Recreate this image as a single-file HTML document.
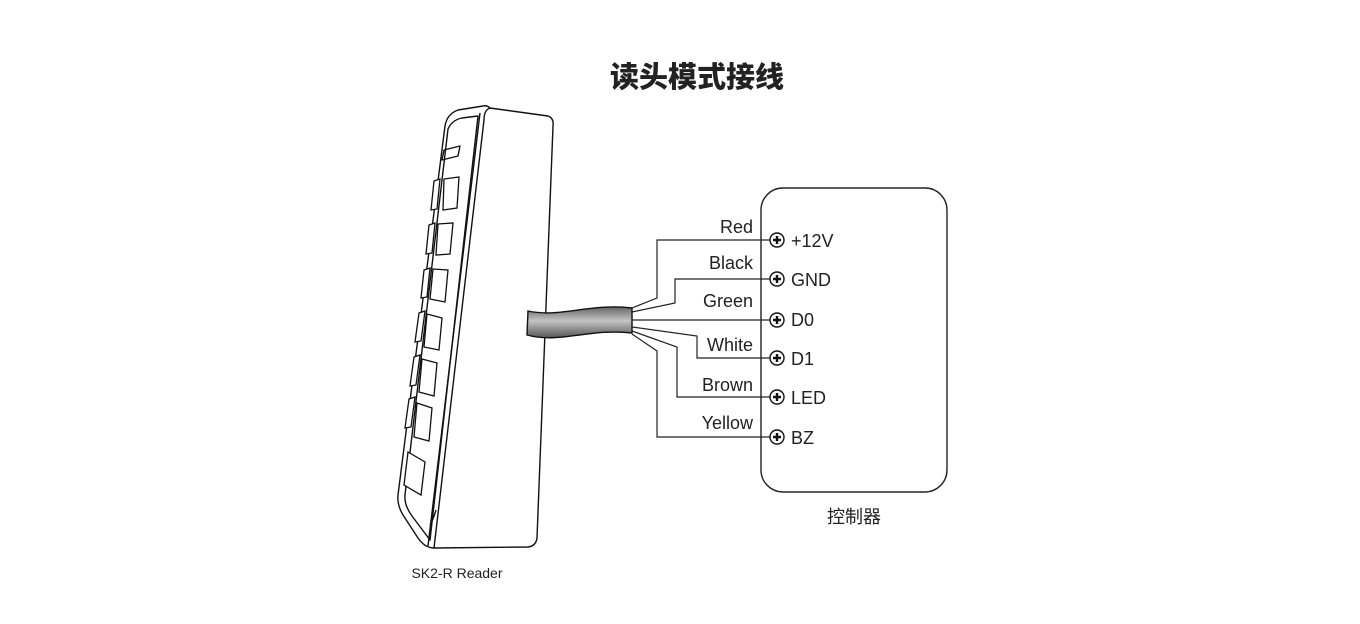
<!DOCTYPE html>
<html><head><meta charset="utf-8"><style>
html,body{margin:0;padding:0;background:#fff;}
svg{display:block;}
text{font-family:"Liberation Sans","Noto Sans CJK SC",sans-serif;fill:#222;}
</style></head><body>
<svg width="1360" height="624" viewBox="0 0 1360 624" xmlns="http://www.w3.org/2000/svg">
<defs>
<linearGradient id="cab" x1="0" y1="0" x2="0" y2="1">
<stop offset="0" stop-color="#666"/><stop offset="0.45" stop-color="#c4c4c4"/><stop offset="1" stop-color="#555"/>
</linearGradient>
</defs>
<text x="697" y="87" font-size="29" font-weight="bold" text-anchor="middle" style="font-family:'Noto Sans CJK SC',sans-serif;font-weight:900">读头模式接线</text>

<!-- reader -->
<g fill="none" stroke="#111" stroke-width="1.4" stroke-linejoin="round">
<path d="M445,126 Q447,114 458,110 L483,106 Q487,105 490,108 L548,116 Q554,118 553,126 L537,538 Q536,546 528,547 L434,548 Q425,548 418,538 L403,515 Q397,505 398,495 Z" fill="#fff"/>
<path d="M490,108 Q484,110 484,120 L434,548"/>
<path d="M480,113 L428,546"/>
<path d="M448,129 Q452,120 462,118 L478,116 L430,540 L412,516 Q404,505 405,495 Z"/>
<path d="M444,150 L460,146 L458,156 L442,160 Z"/>
<path d="M436,510 Q433,520 430,525"/>
</g>
<g fill="#fff" stroke="#111" stroke-width="1.3">
<path d="M434,181 L440,179 L437,209 L431,210 Z"/><path d="M444,179 L459,177 L457,208 L443,210 Z"/>
<path d="M429,225 L435,223 L432,253 L426,254 Z"/><path d="M438,224 L453,223 L450,254 L436,255 Z"/>
<path d="M424,270 L430,268 L427,297 L421,298 Z"/><path d="M433,269 L448,270 L445,302 L430,299 Z"/>
<path d="M419,313 L425,311 L421,341 L415,342 Z"/><path d="M427,314 L442,318 L439,350 L424,347 Z"/>
<path d="M414,357 L420,355 L416,385 L410,386 Z"/><path d="M422,359 L437,363 L434,396 L419,392 Z"/>
<path d="M409,399 L415,397 L411,427 L405,428 Z"/><path d="M417,403 L432,408 L429,441 L414,437 Z"/>
<path d="M408,452 L425,462 L421,495 L404,485 Z"/>
</g>
<!-- cable -->
<path d="M528,311 C560,318 590,303 632,308 L632,333 C590,328 560,344 527,335 Z" fill="url(#cab)" stroke="#111" stroke-width="1.4"/>

<!-- wires -->
<g fill="none" stroke="#222" stroke-width="1.2">
<path d="M632,308 L657,298 L657,240 L770,240"/>
<path d="M632,312 L675,303 L675,279 L770,279"/>
<path d="M632,320 L770,320"/>
<path d="M632,327 L697,336 L697,358 L770,358"/>
<path d="M632,331 L677,347 L677,397 L770,397"/>
<path d="M632,334 L657,351 L657,437 L770,437"/>
</g>

<!-- controller -->
<rect x="761" y="188" width="186" height="304" rx="22" fill="none" stroke="#222" stroke-width="1.4"/>
<g font-size="18" text-anchor="end">
<text x="753" y="233">Red</text>
<text x="753" y="269">Black</text>
<text x="753" y="307">Green</text>
<text x="753" y="351">White</text>
<text x="753" y="391">Brown</text>
<text x="753" y="429">Yellow</text>
</g>
<g fill="#fff" stroke="#111" stroke-width="1.4">
<circle cx="777" cy="240" r="7"/><circle cx="777" cy="279" r="7"/><circle cx="777" cy="320" r="7"/>
<circle cx="777" cy="358" r="7"/><circle cx="777" cy="397" r="7"/><circle cx="777" cy="437" r="7"/>
</g>
<g stroke="#111" stroke-width="2.4">
<path d="M773,240h8M777,236v8M773,279h8M777,275v8M773,320h8M777,316v8M773,358h8M777,354v8M773,397h8M777,393v8M773,437h8M777,433v8"/>
</g>
<g font-size="18">
<text x="791" y="247">+12V</text>
<text x="791" y="286">GND</text>
<text x="791" y="326">D0</text>
<text x="791" y="365">D1</text>
<text x="791" y="404">LED</text>
<text x="791" y="444">BZ</text>
</g>
<text x="854" y="523" font-size="18" text-anchor="middle">控制器</text>
<text x="457" y="578" font-size="14" text-anchor="middle">SK2-R Reader</text>
</svg>
</body></html>
